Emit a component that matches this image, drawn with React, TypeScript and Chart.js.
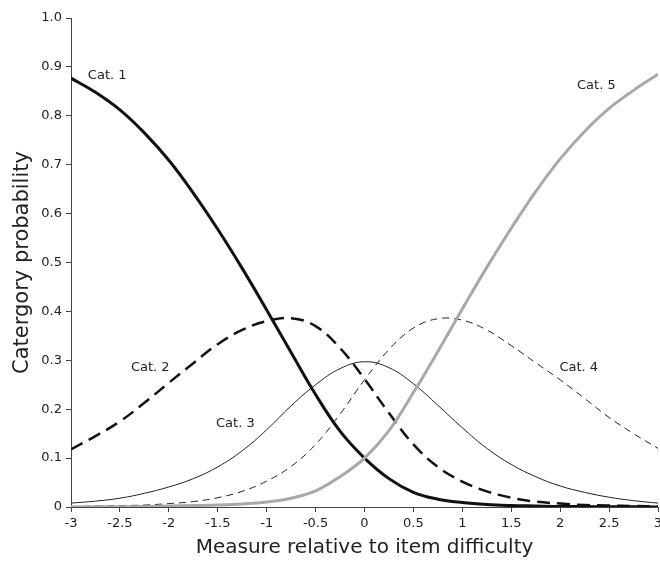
import React, { useEffect, useRef } from "react";
import { Chart, registerables } from "chart.js";

Chart.register(...registerables);

const xValues = [
  -3, -2.75, -2.5, -2.25, -2, -1.75, -1.5, -1.25, -1, -0.75, -0.5, -0.25, 0,
  0.25, 0.5, 0.75, 1, 1.25, 1.5, 1.75, 2, 2.25, 2.5, 2.75, 3,
];

const cat1 = [
  0.877, 0.848, 0.812, 0.765, 0.709, 0.642, 0.568, 0.488, 0.403, 0.316, 0.23,
  0.155, 0.1, 0.058, 0.03, 0.016, 0.009, 0.005, 0.003, 0.002, 0.001, 0.001,
  0.0005, 0.0003, 0.0002,
];

const cat2 = [
  0.118, 0.145, 0.175, 0.213, 0.254, 0.294, 0.333, 0.362, 0.38, 0.386, 0.37,
  0.325, 0.262, 0.192, 0.128, 0.082, 0.052, 0.032, 0.019, 0.011, 0.007, 0.004,
  0.003, 0.002, 0.001,
];

const cat3 = [
  0.008, 0.012, 0.018, 0.028, 0.041, 0.058, 0.082, 0.115, 0.158, 0.207, 0.25,
  0.283, 0.297, 0.285, 0.252, 0.208, 0.162, 0.12, 0.087, 0.062, 0.043, 0.03,
  0.02, 0.013, 0.008,
];

const cat4 = [
  0.001, 0.002, 0.003, 0.004, 0.007, 0.011, 0.019, 0.032, 0.053, 0.083, 0.128,
  0.19, 0.26, 0.322, 0.366, 0.385, 0.382, 0.362, 0.33, 0.295, 0.26, 0.222,
  0.183, 0.15, 0.12,
];

const cat5 = [
  0.0002, 0.0003, 0.0005, 0.001, 0.002, 0.003, 0.004, 0.006, 0.01, 0.018,
  0.033, 0.062, 0.1, 0.156, 0.234, 0.318, 0.405, 0.49, 0.57, 0.645, 0.712,
  0.768, 0.815, 0.852, 0.885,
];

const seriesNames = ["Cat. 1", "Cat. 2", "Cat. 3", "Cat. 4", "Cat. 5"];

// label anchors, in data units
const labelTexts = ["Cat. 1", "Cat. 2", "Cat. 3", "Cat. 4", "Cat. 5"];
const labelX = [-2.63, -2.19, -1.32, 2.19, 2.37];
const labelY = [0.883, 0.284, 0.17, 0.284, 0.861];

const xTitle = "Measure relative to item difficulty";
const yTitle = "Catergory probability";

const FONT = "'DejaVu Sans', sans-serif";

const curveLabels = {
  id: "curveLabels",
  afterDatasetsDraw(chart: any) {
    const { ctx, scales } = chart;
    ctx.save();
    ctx.font = `13px ${FONT}`;
    ctx.fillStyle = "#222";
    ctx.textAlign = "center";
    ctx.textBaseline = "middle";
    labelTexts.forEach((t, i) => {
      ctx.fillText(
        t,
        scales.x.getPixelForValue(labelX[i]),
        scales.y.getPixelForValue(labelY[i])
      );
    });
    ctx.restore();
  },
};

export default function App() {
  const ref = useRef<HTMLCanvasElement | null>(null);

  useEffect(() => {
    if (!ref.current) return;
    const mk = (vals: number[]) => xValues.map((x, i) => ({ x, y: vals[i] }));
    const chart = new Chart(ref.current, {
      type: "line",
      data: {
        datasets: [
          {
            label: seriesNames[4],
            data: mk(cat5),
            borderColor: "#a8a8a8",
            borderWidth: 3,
          },
          {
            label: seriesNames[3],
            data: mk(cat4),
            borderColor: "#222",
            borderWidth: 1,
            borderDash: [7, 5],
          },
          {
            label: seriesNames[2],
            data: mk(cat3),
            borderColor: "#222",
            borderWidth: 1,
          },
          {
            label: seriesNames[1],
            data: mk(cat2),
            borderColor: "#111",
            borderWidth: 2.5,
            borderDash: [13, 7],
          },
          {
            label: seriesNames[0],
            data: mk(cat1),
            borderColor: "#111",
            borderWidth: 3,
          },
        ],
      },
      options: {
        responsive: false,
        animation: false,
        layout: { padding: { top: 18, right: 2, left: 0, bottom: 0 } },
        elements: {
          point: { radius: 0 },
          line: { tension: 0.4, fill: false },
        },
        plugins: {
          legend: { display: false },
          tooltip: { enabled: false },
        },
        scales: {
          x: {
            type: "linear",
            min: -3,
            max: 3,
            afterFit: (s: any) => {
              s.height = 55;
              s.paddingLeft = 0;
              s.paddingRight = 0;
            },
            ticks: {
              stepSize: 0.5,
              autoSkip: false,
              maxRotation: 0,
              padding: 4,
              color: "#222",
              font: { family: FONT, size: 13 },
              callback: (v: any) => String(v),
            },
            grid: {
              display: true,
              drawOnChartArea: false,
              drawTicks: true,
              tickLength: 5,
              color: "#444",
            },
            border: { display: true, color: "#444", width: 1 },
            title: {
              display: true,
              text: xTitle,
              color: "#222",
              font: { family: FONT, size: 20 },
              padding: { top: 0, bottom: 2 },
            },
          },
          y: {
            type: "linear",
            min: 0,
            max: 1,
            afterFit: (s: any) => {
              s.width = 71;
              s.paddingTop = 0;
              s.paddingBottom = 0;
            },
            ticks: {
              stepSize: 0.1,
              padding: 4,
              color: "#222",
              font: { family: FONT, size: 13 },
              callback: (v: any) => (Number(v) === 0 ? "0" : Number(v).toFixed(1)),
            },
            grid: {
              display: true,
              drawOnChartArea: false,
              drawTicks: true,
              tickLength: 5,
              color: "#444",
            },
            border: { display: true, color: "#444", width: 1 },
            title: {
              display: true,
              text: yTitle,
              color: "#222",
              font: { family: FONT, size: 21 },
              padding: { top: 10, bottom: 0 },
            },
          },
        },
      },
      plugins: [curveLabels],
    });
    return () => chart.destroy();
  }, []);

  return (
    <div style={{ position: "absolute", left: 0, top: 0, width: 660, height: 562, background: "#fff" }}>
      <canvas ref={ref} width={660} height={562} style={{ width: 660, height: 562 }} />
    </div>
  );
}
